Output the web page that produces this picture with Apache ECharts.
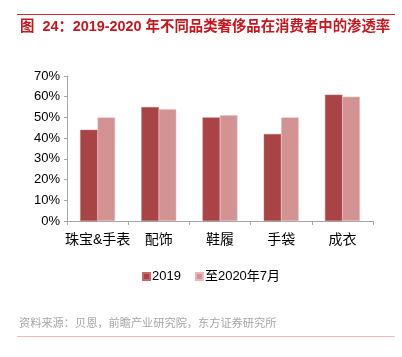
<!DOCTYPE html>
<html><head><meta charset="utf-8">
<script src="https://cdn.jsdelivr.net/npm/echarts@6/dist/echarts.min.js"></script>
<style>html,body{margin:0;padding:0;background:#fff}#c{width:402px;height:357px}</style>
</head><body><div id="c"></div>
<script>
const categories = ['珠宝&手表', '配饰', '鞋履', '手袋', '成衣'];
const seriesNames = ['2019', '至2020年7月'];
const values2019 = [44, 55, 50, 42, 61];
const values2020 = [50, 54, 51, 50, 60];
const yTicks = [0, 10, 20, 30, 40, 50, 60, 70];

const chart = echarts.init(document.getElementById('c'));
const font = '"Liberation Sans", Arial, "Noto Sans CJK SC", sans-serif';
chart.setOption({
  animation: false,
  textStyle: { fontFamily: font },
  title: [
    { text: '图  24：2019-2020 年不同品类奢侈品在消费者中的渗透率', left: 20, top: 20, padding: 0,
      textStyle: { color: '#c8161d', fontSize: 14.4, fontWeight: 'bold', fontFamily: font } },
    { text: '资料来源：贝恩，前瞻产业研究院，东方证券研究所', left: 19, top: 318, padding: 0,
      textStyle: { color: '#a6a6a6', fontSize: 11.2, fontWeight: 'normal', fontFamily: font } }
  ],
  graphic: [
    { type: 'line', shape: { x1: 17, y1: 14.5, x2: 395, y2: 14.5 }, style: { stroke: '#d9262a', lineWidth: 1 } },
    { type: 'line', shape: { x1: 17, y1: 336.5, x2: 395, y2: 336.5 }, style: { stroke: '#f5b8b8', lineWidth: 1 } }
  ],
  legend: {
    data: seriesNames, top: 265, left: 137, itemWidth: 7, itemHeight: 7, itemGap: 14,
    icon: 'rect', textStyle: { fontSize: 13, color: '#000', padding: [0, 0, 0, -3] }
  },
  grid: { left: 67, right: 29, top: 76, bottom: 136, containLabel: false },
  xAxis: {
    type: 'category', data: categories,
    axisLine: { lineStyle: { color: '#a6a6a6' } },
    axisTick: { show: true, length: 4, lineStyle: { color: '#a6a6a6' } },
    axisLabel: { color: '#000', fontSize: 14, margin: 12, interval: 0 }
  },
  yAxis: {
    type: 'value', min: 0, max: 70, interval: 10,
    axisLine: { show: true, lineStyle: { color: '#a6a6a6' } },
    axisTick: { show: true, length: 3, lineStyle: { color: '#a6a6a6' } },
    splitLine: { show: false },
    axisLabel: { color: '#000', fontSize: 13, margin: 7, formatter: v => yTicks.includes(v) ? v + '%' : '' }
  },
  series: [
    { name: seriesNames[0], type: 'bar', data: values2019, barGap: '0%', barCategoryGap: '43%',
      itemStyle: { color: '#a84446', borderColor: '#c46a6b', borderWidth: 0.5 } },
    { name: seriesNames[1], type: 'bar', data: values2020, barGap: '0%', barCategoryGap: '43%',
      itemStyle: { color: '#d39392', borderColor: '#e8b8b8', borderWidth: 0.5 } }
  ]
});
</script></body></html>
